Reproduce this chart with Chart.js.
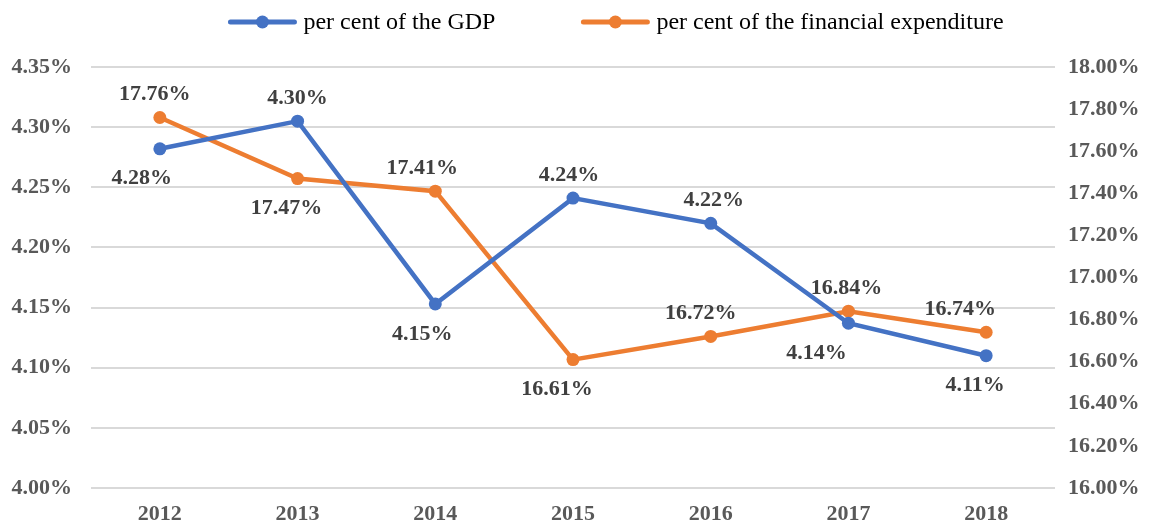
<!DOCTYPE html>
<html>
<head>
<meta charset="utf-8">
<script src="https://cdn.jsdelivr.net/npm/chart.js@4"></script>
<style>
html,body{margin:0;padding:0;background:#fff;}
#wrap{width:1149px;height:524px;position:relative;}
</style>
</head>
<body>
<div id="wrap"><canvas id="c" width="1149" height="524"></canvas></div>
<script>
const categories = ['2012','2013','2014','2015','2016','2017','2018'];
const gdpShare = [4.282, 4.305, 4.153, 4.241, 4.220, 4.137, 4.110];
const finShare = [17.76, 17.47, 17.41, 16.61, 16.72, 16.84, 16.74];
const gdpLabels = ['4.28%','4.30%','4.15%','4.24%','4.22%','4.14%','4.11%'];
const finLabels = ['17.76%','17.47%','17.41%','16.61%','16.72%','16.84%','16.74%'];
const seriesNames = ['per cent of the GDP','per cent of the financial expenditure'];

// label placement (style, not data)
const gdpPlace = [['below',-18],['above',0],['below',-13],['above',-4],['above',3],['below',-32],['below',-11]];
const finPlace = [['above',-5],['below',-11],['above',-13],['below',-16],['above',-10],['above',-2],['above',-26]];

const SERIF = '"Liberation Serif","Times New Roman",serif';

const labelPlugin = {
  id: 'pointLabels',
  afterDatasetsDraw(chart) {
    const ctx = chart.ctx;
    ctx.save();
    ctx.font = 'bold 22px ' + SERIF;
    ctx.fillStyle = '#404040';
    ctx.textAlign = 'center';
    ctx.textBaseline = 'middle';
    const sets = [[gdpLabels, gdpPlace], [finLabels, finPlace]];
    chart.data.datasets.forEach((ds, i) => {
      const meta = chart.getDatasetMeta(i);
      meta.data.forEach((pt, j) => {
        const [pos, dx] = sets[i][1][j];
        const dy = pos === 'above' ? -23 : 30;
        ctx.fillText(sets[i][0][j], pt.x + dx, pt.y + dy);
      });
    });
    ctx.restore();
  }
};

const legendPlugin = {
  id: 'customLegend',
  afterDraw(chart) {
    const ctx = chart.ctx;
    ctx.save();
    ctx.font = '24px ' + SERIF;
    ctx.textBaseline = 'middle';
    const y = 22;
    const lineLen = 68, gapText = 7, gapItem = 86;
    const widths = chart.data.datasets.map(ds => lineLen + gapText + ctx.measureText(ds.label).width);
    const total = widths.reduce((a,b)=>a+b,0) + gapItem*(widths.length-1);
    let x = 616 - total / 2;
    chart.data.datasets.forEach((ds, i) => {
      ctx.strokeStyle = ds.borderColor;
      ctx.lineWidth = 5;
      ctx.lineCap = 'round';
      ctx.beginPath();
      ctx.moveTo(x + 2, y);
      ctx.lineTo(x + lineLen - 2, y);
      ctx.stroke();
      ctx.fillStyle = ds.borderColor;
      ctx.beginPath();
      ctx.arc(x + lineLen/2, y, 6.5, 0, Math.PI*2);
      ctx.fill();
      ctx.fillStyle = '#000';
      ctx.textAlign = 'left';
      ctx.fillText(ds.label, x + lineLen + gapText, y + 1);
      x += widths[i] + gapItem;
    });
    ctx.restore();
  }
};

new Chart(document.getElementById('c'), {
  type: 'line',
  data: {
    labels: categories,
    datasets: [
      {
        label: seriesNames[0], data: gdpShare, yAxisID: 'y',
        borderColor: '#4472C4', backgroundColor: '#4472C4',
        borderWidth: 4.5, pointRadius: 6.5, pointBackgroundColor: '#4472C4',
        pointBorderWidth: 0, tension: 0
      },
      {
        label: seriesNames[1], data: finShare, yAxisID: 'y1',
        borderColor: '#ED7D31', backgroundColor: '#ED7D31',
        borderWidth: 4.5, pointRadius: 6.5, pointBackgroundColor: '#ED7D31',
        pointBorderWidth: 0, tension: 0
      }
    ]
  },
  options: {
    responsive: false,
    animation: false,
    devicePixelRatio: 1,
    layout: { padding: { top: 67, left: 0, right: 0, bottom: 0 } },
    plugins: { legend: { display: false }, tooltip: { enabled: false } },
    scales: {
      x: {
        offset: true,
        grid: { display: false, drawTicks: false },
        border: { display: false },
        ticks: { font: { family: SERIF, size: 22, weight: 'bold' }, color: '#595959', padding: 13 },
        afterFit(s) { s.height = 36; }
      },
      y: {
        position: 'left', min: 4.0, max: 4.35,
        grid: { color: '#d9d9d9', lineWidth: 2, drawTicks: false },
        border: { display: false },
        ticks: {
          stepSize: 0.05, padding: 19, color: '#595959',
          font: { family: SERIF, size: 22, weight: 'bold' },
          callback: v => v.toFixed(2) + '%'
        },
        afterFit(s) { s.width = 91; }
      },
      y1: {
        position: 'right', min: 16, max: 18,
        grid: { display: false, drawTicks: false },
        border: { display: false },
        ticks: {
          stepSize: 0.2, padding: 13, color: '#595959',
          font: { family: SERIF, size: 22, weight: 'bold' },
          callback: v => v.toFixed(2) + '%'
        },
        afterFit(s) { s.width = 94; }
      }
    }
  },
  plugins: [labelPlugin, legendPlugin]
});
</script>
</body>
</html>
